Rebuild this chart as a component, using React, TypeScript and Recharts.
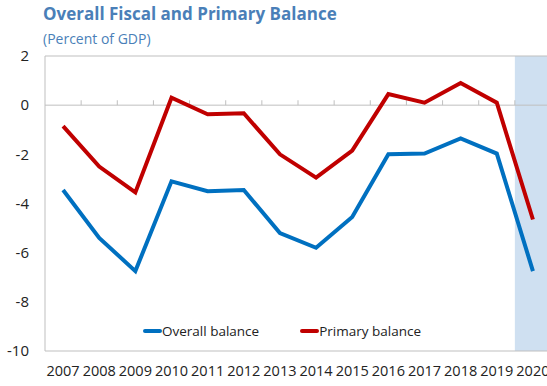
import React from 'react'
import {
  LineChart,
  Line,
  XAxis,
  YAxis,
  ReferenceLine,
  ReferenceArea,
  Legend,
} from 'recharts'

const years = [2007, 2008, 2009, 2010, 2011, 2012, 2013, 2014, 2015, 2016, 2017, 2018, 2019, 2020]
const overallBalance = [-3.45, -5.4, -6.75, -3.1, -3.5, -3.45, -5.2, -5.8, -4.55, -2.0, -1.97, -1.35, -1.97, -6.75]
const primaryBalance = [-0.85, -2.5, -3.55, 0.3, -0.37, -0.33, -2.0, -2.95, -1.85, 0.45, 0.1, 0.9, 0.1, -4.65]
const yTicks = [-10, -8, -6, -4, -2, 0, 2]

const COLORS = {
  overall: '#0070c0',
  primary: '#c00000',
  title: '#4a7fb8',
  axis: '#bfbfbf',
  shade: '#cfe0f1',
  text: '#222222',
}

const FONT = '"Open Sans", "Noto Sans", sans-serif'

const data = years.map((year, i) => ({
  year,
  overall: overallBalance[i],
  primary: primaryBalance[i],
}))

// small tick marks sitting on the zero line, between the years
const zeroTicks = years.slice(0, -1).map((y) => y + 0.5)

function LegendContent({ payload }: { payload?: any[] }) {
  if (!payload) return null
  return (
    <div style={{ display: 'flex', fontFamily: FONT, fontSize: 13.5, color: COLORS.text }}>
      {payload.map((p) => (
        <div key={p.value} style={{ display: 'flex', alignItems: 'center', marginRight: 41 }}>
          <span
            style={{
              display: 'inline-block',
              width: 19,
              height: 4,
              borderRadius: 2,
              background: p.color,
              marginRight: 0,
            }}
          />
          <span>{p.value}</span>
        </div>
      ))}
    </div>
  )
}

export default function App() {
  return (
    <div
      style={{
        position: 'absolute',
        left: 0,
        top: 0,
        width: 547,
        height: 386,
        overflow: 'hidden',
        background: '#fff',
      }}
    >
      <div
        style={{
          position: 'absolute',
          left: 43,
          top: 2,
          fontFamily: FONT,
          fontWeight: 700,
          fontSize: 17,
          color: COLORS.title,
          whiteSpace: 'nowrap',
        }}
      >
        Overall Fiscal and Primary Balance
      </div>
      <div
        style={{
          position: 'absolute',
          left: 43,
          top: 29,
          fontFamily: FONT,
          fontSize: 14,
          color: COLORS.title,
          whiteSpace: 'nowrap',
        }}
      >
        (Percent of GDP)
      </div>
      <LineChart
        width={551}
        height={386}
        data={data}
        margin={{ top: 56, right: 0, bottom: 0, left: 0 }}
        style={{ position: 'absolute', left: 0, top: 0 }}
      >
        <XAxis
          dataKey="year"
          type="number"
          domain={[2006.5, 2020.5]}
          ticks={years}
          interval={0}
          height={35}
          stroke={COLORS.axis}
          tickLine={false}
          tickMargin={9}
          tick={{ fill: COLORS.text, fontSize: 14.5, fontFamily: FONT }}
        />
        <YAxis
          type="number"
          domain={[-10, 2]}
          ticks={yTicks}
          width={45}
          stroke={COLORS.axis}
          tickLine={false}
          tickSize={0}
          tickMargin={16}
          tick={{ fill: COLORS.text, fontSize: 15, fontFamily: FONT }}
        />
        <ReferenceLine y={2} stroke={COLORS.axis} />
        <ReferenceLine y={0} stroke={COLORS.axis} />
        {zeroTicks.map((x) => (
          <ReferenceLine
            key={x}
            segment={[
              { x, y: 0 },
              { x, y: 0.2 },
            ]}
            stroke={COLORS.axis}
          />
        ))}
        <ReferenceArea x1={2019.5} x2={2020.5} y1={-10} y2={2} fill={COLORS.shade} fillOpacity={1} stroke="none" />
        <Legend
          layout="horizontal"
          verticalAlign="middle"
          align="center"
          content={<LegendContent />}
          wrapperStyle={{ position: 'absolute', left: 143, top: 322, width: 'auto' }}
        />
        <Line
          type="linear"
          dataKey="overall"
          name="Overall balance"
          stroke={COLORS.overall}
          strokeWidth={4}
          dot={false}
          isAnimationActive={false}
        />
        <Line
          type="linear"
          dataKey="primary"
          name="Primary balance"
          stroke={COLORS.primary}
          strokeWidth={4}
          dot={false}
          isAnimationActive={false}
        />
      </LineChart>
    </div>
  )
}
